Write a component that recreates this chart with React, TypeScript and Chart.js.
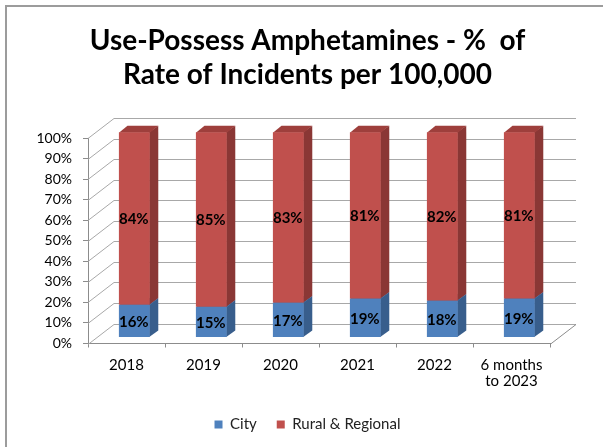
import React, { useEffect, useRef } from 'react';
import { Chart, registerables } from 'chart.js';

Chart.register(...registerables);

// ---- data ----
const categories: (string | string[])[] = ['2018', '2019', '2020', '2021', '2022', ['6 months', 'to 2023']];
const cityValues = [16, 15, 17, 19, 18, 19];
const ruralValues = [84, 85, 83, 81, 82, 81];
const seriesNames = ['City', 'Rural & Regional'];
const titleLines = ['Use-Possess Amphetamines - %  of', 'Rate of Incidents per 100,000'];
const yMin = 0;
const yMax = 100;
const yStep = 10;

// ---- style ----
const FONT = "Lato, 'Open Sans', 'Liberation Sans', sans-serif";
const frontColors = ['#4F81BD', '#C0504D'];
const sideColors = ['#385E8C', '#8A3735'];
const topColors = ['#4673A8', '#9E3F3C'];
const GRID = '#A8A8A8';
const AXIS = '#8C8C8C';
const DX = 26; // wall depth (px)
const DY = -20;
const BAR_FRONT = 0.3; // fraction of depth where bar front sits
const BAR_BACK = 0.63;

const threeD = {
  id: 'threeD',
  beforeDatasetsDraw(chart: any) {
    const { ctx, chartArea, scales } = chart;
    const { left, right, bottom } = chartArea;
    const y = scales.y;
    ctx.save();
    ctx.strokeStyle = GRID;
    ctx.lineWidth = 1;
    y.ticks.forEach((t: any) => {
      const py = Math.round(y.getPixelForValue(t.value)) + 0.5;
      ctx.beginPath();
      ctx.moveTo(left, py);
      ctx.lineTo(left + DX, py + DY);
      ctx.lineTo(right + DX, py + DY);
      ctx.stroke();
    });
    ctx.strokeStyle = AXIS;
    ctx.beginPath();
    ctx.moveTo(right, Math.round(bottom) + 0.5);
    ctx.lineTo(right + DX, Math.round(bottom) + 0.5 + DY);
    ctx.stroke();

    const fx = DX * BAR_FRONT;
    const fy = DY * BAR_FRONT;
    const bx = DX * (BAR_BACK - BAR_FRONT);
    const by = DY * (BAR_BACK - BAR_FRONT);
    const labels: { x: number; y: number; t: string }[] = [];

    chart.data.datasets.forEach((ds: any, di: number) => {
      const meta = chart.getDatasetMeta(di);
      meta.data.forEach((el: any, i: number) => {
        const p = el.getProps(['x', 'y', 'base', 'width'], true);
        const x0 = p.x - p.width / 2 + fx;
        const x1 = p.x + p.width / 2 + fx;
        const y0 = Math.min(p.y, p.base) + fy;
        const y1 = Math.max(p.y, p.base) + fy;
        ctx.fillStyle = sideColors[di];
        ctx.beginPath();
        ctx.moveTo(x1 - 0.5, y1);
        ctx.lineTo(x1 - 0.5, y0);
        ctx.lineTo(x1 + bx, y0 + by);
        ctx.lineTo(x1 + bx, y1 + by);
        ctx.closePath();
        ctx.fill();
        ctx.fillStyle = topColors[di];
        ctx.beginPath();
        ctx.moveTo(x0, y0 + 0.5);
        ctx.lineTo(x1, y0 + 0.5);
        ctx.lineTo(x1 + bx, y0 + by);
        ctx.lineTo(x0 + bx, y0 + by);
        ctx.closePath();
        ctx.fill();
        ctx.fillStyle = frontColors[di];
        ctx.fillRect(x0, y0, x1 - x0, y1 - y0);
        labels.push({ x: (x0 + x1) / 2, y: (y0 + y1) / 2, t: ds.data[i] + '%' });
      });
    });

    ctx.fillStyle = '#000';
    ctx.font = `bold 15px ${FONT}`;
    ctx.textAlign = 'center';
    ctx.textBaseline = 'middle';
    labels.forEach((l) => ctx.fillText(l.t, l.x - 0.5, l.y + 1));
    ctx.restore();
    return false;
  },
};

export default function App() {
  const ref = useRef<HTMLCanvasElement>(null);
  useEffect(() => {
    const chart = new Chart(ref.current as HTMLCanvasElement, {
      type: 'bar',
      data: {
        labels: categories as any,
        datasets: [
          {
            label: seriesNames[0],
            data: cityValues,
            backgroundColor: frontColors[0],
            borderWidth: 0,
            barPercentage: 0.4,
            categoryPercentage: 1,
          },
          {
            label: seriesNames[1],
            data: ruralValues,
            backgroundColor: frontColors[1],
            borderWidth: 0,
            barPercentage: 0.4,
            categoryPercentage: 1,
          },
        ],
      },
      options: {
        responsive: false,
        animation: false,
        events: [],
        layout: { padding: { left: 12, top: 0, right: 0, bottom: 5 } },
        plugins: {
          title: {
            display: true,
            text: titleLines,
            color: '#000',
            font: { family: FONT, size: 28, weight: 'bold', lineHeight: 1.22 },
            padding: { top: 24, bottom: 46 },
          },
          legend: {
            position: 'bottom',
            labels: {
              boxWidth: 8,
              boxHeight: 8,
              padding: 20,
              color: '#222',
              font: { family: FONT, size: 15 },
            },
          },
          tooltip: { enabled: false },
        },
        scales: {
          x: {
            stacked: true,
            grid: { display: true, drawOnChartArea: false, offset: true, tickLength: 4, color: AXIS },
            border: { display: true, color: AXIS },
            ticks: { color: '#000', font: { family: FONT, size: 15, lineHeight: 1.07 }, padding: 10, maxRotation: 0, autoSkip: false },
            afterFit: (s: any) => { s.height = 53.5; },
          },
          y: {
            stacked: true,
            min: yMin,
            max: yMax,
            ticks: { stepSize: yStep, callback: (v: any) => v + '%', padding: 11, color: '#000', font: { family: FONT, size: 14 } },
            grid: { drawOnChartArea: false, tickLength: 5, color: AXIS },
            border: { color: AXIS },
            afterFit: (s: any) => { s.width = 76; },
          },
          yR: {
            position: 'right',
            display: true,
            grid: { display: false },
            ticks: { display: false },
            border: { display: false },
            afterFit: (s: any) => { s.width = 53; },
          },
        },
      } as any,
      plugins: [threeD],
    });
    return () => chart.destroy();
  }, []);
  return (
    <div style={{ position: 'fixed', left: 0, top: 0, width: 603, height: 447, overflow: 'hidden', background: '#fff' }}>
      <div style={{ position: 'absolute', left: 5, top: 5, width: 700, height: 600, border: '2px solid #9C9C9C', boxSizing: 'border-box' }} />
      <canvas ref={ref} width={603} height={447} style={{ position: 'absolute', left: 0, top: 0, width: 603, height: 447 }} />
    </div>
  );
}
